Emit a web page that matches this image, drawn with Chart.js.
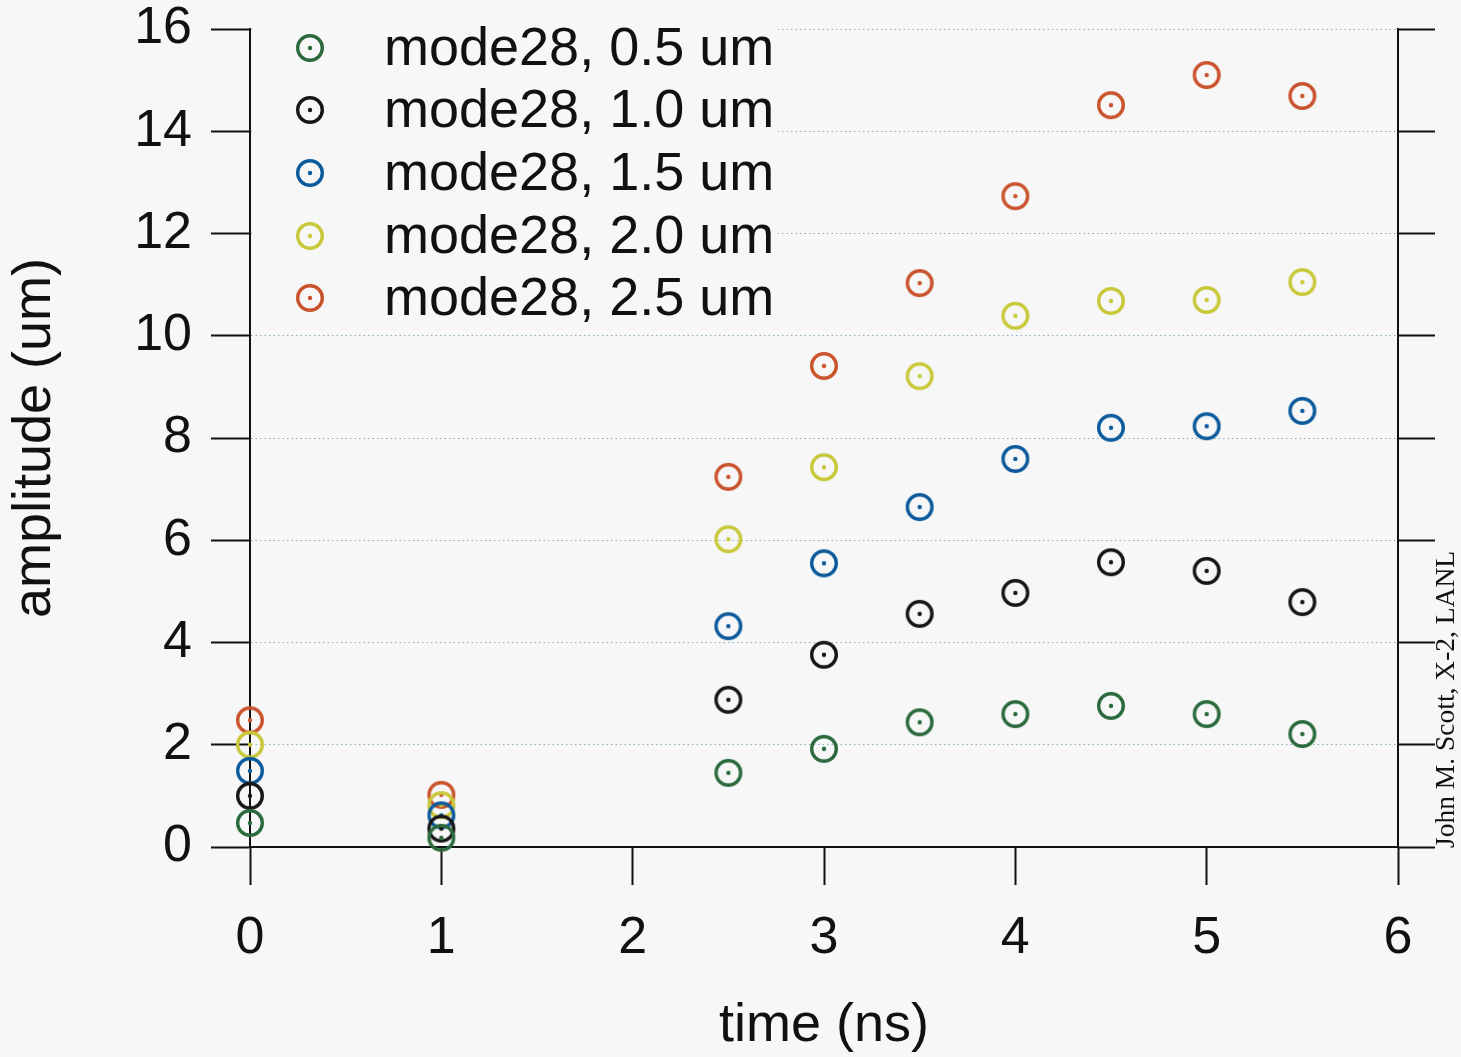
<!DOCTYPE html>
<html>
<head>
<meta charset="utf-8">
<script src="https://cdn.jsdelivr.net/npm/chart.js@4/dist/chart.umd.min.js"></script>
<style>
html,body{margin:0;padding:0;background:#f7f7f7;}
#wrap{width:1461px;height:1057px;position:relative;}
</style>
</head>
<body>
<div id="wrap"><canvas id="c" width="1461" height="1057"></canvas></div>
<script>
// ---- data ----
const times  = [0, 1, 2.5, 3, 3.5, 4, 4.5, 5, 5.5];
const amp05  = [0.47, 0.18, 1.45, 1.92, 2.44, 2.60, 2.76, 2.60, 2.21];
const amp10  = [1.00, 0.36, 2.88, 3.76, 4.56, 4.97, 5.57, 5.40, 4.79];
const amp15  = [1.49, 0.62, 4.32, 5.55, 6.65, 7.59, 8.20, 8.23, 8.53];
const amp20  = [2.00, 0.82, 6.02, 7.43, 9.21, 10.39, 10.68, 10.70, 11.05];
const amp25  = [2.48, 1.02, 7.24, 9.41, 11.03, 12.73, 14.51, 15.10, 14.69];
const seriesLabels = ['mode28, 0.5 um', 'mode28, 1.0 um', 'mode28, 1.5 um', 'mode28, 2.0 um', 'mode28, 2.5 um'];
const seriesValues = [amp05, amp10, amp15, amp20, amp25];
const seriesColors = ['#2b6a3c', '#161616', '#0c5a9c', '#c8c83a', '#c9532c'];
const xTitle = 'time (ns)';
const yTitle = 'amplitude (um)';
const credit = 'John M. Scott, X-2, LANL';

// ---- marker images (circle with centre dot) ----
function makeMarker(color) {
  const c = document.createElement('canvas');
  c.width = 34; c.height = 34;
  const g = c.getContext('2d');
  g.strokeStyle = color; g.lineWidth = 3.4;
  g.beginPath(); g.arc(17, 17, 12.3, 0, Math.PI * 2); g.stroke();
  g.fillStyle = color;
  g.beginPath(); g.arc(17, 17, 2.2, 0, Math.PI * 2); g.fill();
  return c;
}
const markers = seriesColors.map(makeMarker);

const datasets = seriesLabels.map((lab, i) => ({
  label: lab,
  data: times.map((t, j) => ({x: t, y: seriesValues[i][j]})),
  pointStyle: markers[i],
  pointRadius: 14,
  borderColor: seriesColors[i],
  backgroundColor: seriesColors[i],
  showLine: false,
  clip: false
}));

const FONT = "'Liberation Sans', Arial, sans-serif";

const legendPlugin = {
  id: 'insideLegend',
  beforeDatasetsDraw(chart) {
    const ctx = chart.ctx;
    const a = chart.chartArea;
    ctx.save();
    ctx.fillStyle = '#f7f7f7';
    ctx.fillRect(a.left + 2, a.top - 2, 778 - a.left - 2, 322 - a.top);
    ctx.font = '54px ' + FONT;
    ctx.fillStyle = '#111';
    ctx.textAlign = 'left';
    ctx.textBaseline = 'middle';
    const rowY = [48, 110, 173, 236, 298];
    seriesLabels.forEach((lab, i) => {
      ctx.drawImage(markers[i], 310 - 17, rowY[i] - 17);
      ctx.fillText(lab, 384, rowY[i] + 2);
    });
    ctx.restore();
  }
};

const creditPlugin = {
  id: 'credit',
  afterDraw(chart) {
    const ctx = chart.ctx;
    ctx.save();
    ctx.translate(1447, 848);
    ctx.rotate(-Math.PI / 2);
    ctx.font = "27.5px 'Liberation Serif', 'Times New Roman', serif";
    ctx.fillStyle = '#111';
    ctx.textAlign = 'left';
    ctx.textBaseline = 'middle';
    ctx.fillText(credit, 0, 0);
    ctx.restore();
  }
};

function noPad(s) { s.paddingTop = 0; s.paddingBottom = 0; }

new Chart(document.getElementById('c'), {
  type: 'scatter',
  data: {datasets},
  plugins: [legendPlugin, creditPlugin],
  options: {
    responsive: false,
    animation: false,
    events: [],
    layout: {padding: {top: 29, left: 0, right: 0, bottom: 0}},
    plugins: {legend: {display: false}, tooltip: {enabled: false}},
    scales: {
      x: {
        type: 'linear', min: 0, max: 6,
        ticks: {stepSize: 1, font: {size: 52, family: FONT}, color: '#111', padding: 22, maxRotation: 0},
        grid: {drawOnChartArea: false, tickLength: 38, tickColor: '#111', tickWidth: 2},
        border: {color: '#111', width: 2},
        title: {display: true, text: xTitle, font: {size: 54, family: FONT, lineHeight: 1}, color: '#111', padding: {top: 0, bottom: 4}},
        afterFit(s) { s.height = 210; }
      },
      y: {
        type: 'linear', position: 'left', min: 0, max: 16,
        ticks: {stepSize: 2, font: {size: 52, family: FONT}, color: '#111', padding: 19},
        grid: {drawOnChartArea: true, color: '#86afc2', lineWidth: 1, tickLength: 39, tickColor: '#111', tickWidth: 2},
        border: {color: '#111', width: 2, dash: [1.5, 3]},
        title: {display: true, text: yTitle, font: {size: 54, family: FONT, lineHeight: 1}, color: '#111', padding: {top: 8, bottom: 0}},
        afterFit(s) { s.width = 250; noPad(s); }
      },
      y2: {
        type: 'linear', position: 'right', min: 0, max: 16,
        ticks: {stepSize: 2, display: false},
        grid: {drawOnChartArea: false, tickLength: 37, tickColor: '#111', tickWidth: 2},
        border: {color: '#111', width: 2},
        afterFit(s) { s.width = 63; noPad(s); }
      }
    }
  }
});
</script>
</body>
</html>
